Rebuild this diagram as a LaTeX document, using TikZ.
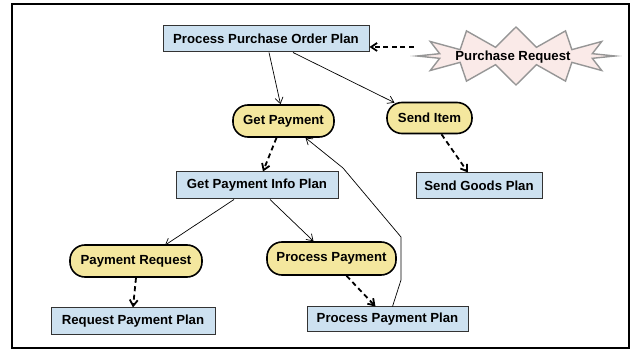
\documentclass[tikz,border=0pt]{standalone}
\usepackage{fontspec}
\setmainfont{Liberation Sans}
\usetikzlibrary{arrows.meta,shapes.symbols}
\definecolor{planblue}{RGB}{205,225,240}
\definecolor{goalyellow}{RGB}{244,231,158}
\definecolor{eventpink}{RGB}{250,234,232}
\definecolor{eventgray}{RGB}{150,150,150}
\begin{document}
\begin{tikzpicture}[x=1pt,y=-1pt,
    font=\bfseries\fontsize{13.2}{15}\selectfont,
    planbox/.style={draw=black!80,line width=1pt,fill=planblue,inner sep=0pt},
    goalnode/.style={draw=black,line width=1.6pt,fill=goalyellow,rounded corners=15pt,inner sep=0pt,minimum height=32pt},
    eventnode/.style={starburst,starburst points=12,starburst point height=20pt,random starburst=0,
      draw=eventgray,line width=1.4pt,fill=eventpink,inner sep=0pt},
    link/.style={-{Straight Barb[length=6pt,width=8pt]},line width=0.7pt},
    dashlink/.style={-{Straight Barb[length=6pt,width=8pt]},line width=1.8pt,dash pattern=on 5pt off 3.5pt}]
  \useasboundingbox (0,0) rectangle (633,350);
  \draw[line width=1.2pt] (12,4) rectangle (629,348);
  % plans
  \node[planbox,minimum width=206pt,minimum height=26pt] (ppop) at (266,39) {Process Purchase Order Plan};
  \node[planbox,minimum width=162pt,minimum height=27pt] (gpip) at (257,185.5) {Get Payment Info Plan};
  \node[planbox,minimum width=126pt,minimum height=26pt] (sgp) at (479,186) {Send Goods Plan};
  \node[planbox,minimum width=164pt,minimum height=27pt] (rpp) at (133,321.5) {Request Payment Plan};
  \node[planbox,minimum width=161pt,minimum height=25pt] (ppp) at (387.5,319.5) {Process Payment Plan};
  % goals
  \node[goalnode,minimum width=101pt] (gp) at (283.5,121) {Get Payment};
  \node[goalnode,minimum width=85pt,minimum height=31pt] (si) at (429.5,118) {Send Item};
  \node[goalnode,minimum width=132pt] (pr) at (136,261) {Payment Request};
  \node[goalnode,minimum width=129pt,minimum height=33pt] (pp) at (331.5,258.5) {Process Payment};
  % event
  \node[eventnode,minimum width=198pt,minimum height=58pt] (ev) at (516,56) {};
  \node (evtext) at (513,57) {Purchase Request};
  \coordinate (ppopin) at ([yshift=-8pt]ppop.east);
  % links
  \draw[dashlink] ([xshift=44pt]ppopin) -- (ppopin);
  \draw[link] ([xshift=3pt]ppop.south) -- ([xshift=-3pt]gp.north);
  \draw[link] ([xshift=27pt]ppop.south) -- ([xshift=-35pt,yshift=-1pt]si.north);
  \draw[dashlink] ([xshift=-7pt]gp.south) -- ([xshift=6pt]gpip.north);
  \draw[dashlink] ([xshift=12pt]si.south) -- ([xshift=-11pt]sgp.north);
  \draw[link] ([xshift=-23pt]gpip.south) -- ([xshift=29pt,yshift=-1pt]pr.north);
  \draw[link] ([xshift=13pt]gpip.south) -- ([xshift=-18pt]pp.north);
  \draw[dashlink] (pr.south) -- (rpp.north);
  \draw[dashlink] ([xshift=15pt]pp.south) -- ([xshift=-12pt]ppp.north);
  \draw[link] ([xshift=5pt]ppp.north) -- (401,280) -- (401,237) -- (343,168) -- ([xshift=22pt]gp.south);
\end{tikzpicture}
\end{document}
